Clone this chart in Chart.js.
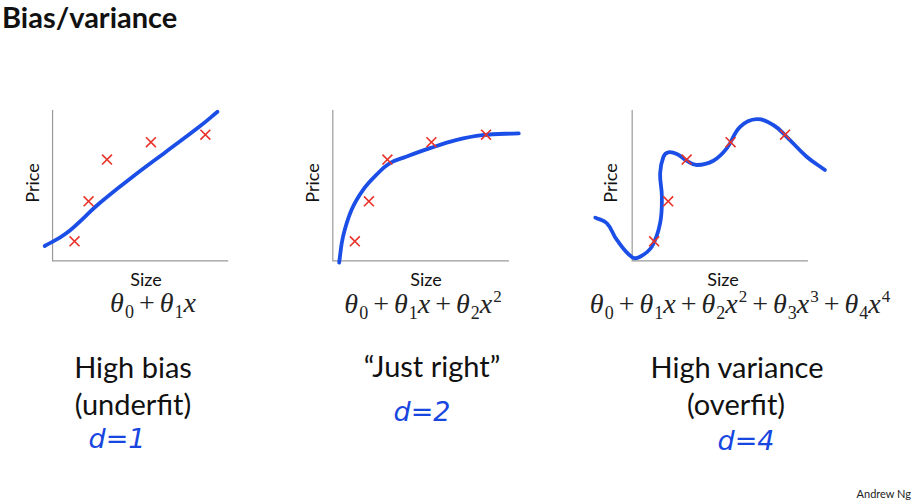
<!DOCTYPE html>
<html>
<head>
<meta charset="utf-8">
<title>Bias/variance</title>
<script src="https://cdn.jsdelivr.net/npm/chart.js@4.4.1/dist/chart.umd.min.js"></script>
<style>
  body { margin: 0; background: #fff; font-family: Lato, "Open Sans", sans-serif; }
  #slide { position: relative; width: 917px; height: 504px; overflow: hidden; background: #fff; }
  #slide canvas { position: absolute; }
  .t { position: absolute; transform: translate(-50%, -50%); white-space: nowrap; color: #111; }
  .title { position: absolute; left: 2px; top: -1px; font-weight: bold; font-size: 29px; color: #111; }
  .ax { font-size: 18px; }
  .rot { transform: translate(-50%, -50%) rotate(-90deg); }
  .eq { font-family: "Liberation Serif", "DejaVu Serif", serif; font-size: 28px; color: #222; }
  .eq i { font-style: italic; }
  .eq sub { font-size: 18px; vertical-align: -6px; margin-left: 1px; }
  .eq sup { font-size: 17px; vertical-align: 11px; margin-left: 1px; }
  .eq b { font-weight: normal; margin: 0 5px; }
  .big { font-size: 29px; }
  .hand { font-family: "DejaVu Sans", sans-serif; font-size: 27px; color: #1846e0; font-style: italic; }
  .credit { position: absolute; right: 6px; top: 487px; font-size: 11px; color: #222; }
</style>
</head>
<body>
<div id="slide">
  <div class="title">Bias/variance</div>

  <div class="t ax rot" style="left:32px; top:183px;">Price</div>
  <div class="t ax rot" style="left:312px; top:183px;">Price</div>
  <div class="t ax rot" style="left:610px; top:183px;">Price</div>

  <div class="t ax" style="left:146px; top:279px;">Size</div>
  <div class="t ax" style="left:426px; top:279px;">Size</div>
  <div class="t ax" style="left:723px; top:279px;">Size</div>

  <div class="t eq" style="left:153px; top:305px;"><i>θ</i><sub>0</sub><b>+</b><i>θ</i><sub>1</sub><i>x</i></div>
  <div class="t eq" style="left:423px; top:305px;"><i>θ</i><sub>0</sub><b>+</b><i>θ</i><sub>1</sub><i>x</i><b>+</b><i>θ</i><sub>2</sub><i>x</i><sup>2</sup></div>
  <div class="t eq" style="left:740px; top:305px;"><i>θ</i><sub>0</sub><b>+</b><i>θ</i><sub>1</sub><i>x</i><b>+</b><i>θ</i><sub>2</sub><i>x</i><sup>2</sup><b>+</b><i>θ</i><sub>3</sub><i>x</i><sup>3</sup><b>+</b><i>θ</i><sub>4</sub><i>x</i><sup>4</sup></div>

  <div class="t big" style="left:133px; top:366px;">High bias</div>
  <div class="t big" style="left:133px; top:403px;">(underfit)</div>
  <div class="t big" style="left:432px; top:365px;">“Just right”</div>
  <div class="t big" style="left:737px; top:366px;">High variance</div>
  <div class="t big" style="left:736px; top:403px;">(overfit)</div>

  <div class="t hand" style="left:117px; top:438px;">d=1</div>
  <div class="t hand" style="left:422px; top:411px;">d=2</div>
  <div class="t hand" style="left:746px; top:440px;">d=4</div>

  <div class="credit">Andrew Ng</div>
</div>

<script>
'use strict';

//****************************************
//            DATA
//****************************************

// training examples (same five houses in every plot)
const sizeX = [12.5, 20.5, 31, 56, 87];
const priceY = [13, 39.5, 67.2, 78.7, 83.7];

// d = 1 : straight-ish line
const fit1X = [-4.5, 7.8, 26.7, 45.6, 64.6, 83.5, 93.9];
const fit1Y = [9.9, 18.3, 38.2, 55.8, 72.4, 88.9, 98.9];

// d = 2 : curve that flattens out
const fit2X = [3.6, 5.8, 10.6, 17.1, 24.7, 32.2, 41.6, 54.8, 69.9, 84.9, 105.6];
const fit2Y = [-1.1, 16.1, 33.8, 47, 57, 64.7, 69.1, 74.6, 80.1, 83.4, 84.6];

// d = 4 : wiggly overfit curve
const fit4X = [-21, -14.4, -8.7, 0, 4.5, 11.2, 15.9, 16.9, 15.9, 17.8, 20.6, 25.4, 31.1,
  36.8, 46.2, 53.8, 61.4, 70.9, 80.3, 87.9, 99.3, 109.7];
const fit4Y = [28.7, 25, 13.9, 2.4, 2.8, 9.5, 25, 42.6, 58.1, 69.1, 72, 70.9, 66.4,
  63.6, 66.4, 74.6, 88.9, 94, 90.1, 82.3, 69.1, 60.3];

// axes run from 0 to this value
const axisMax = 100;

//****************************************
//            LAYOUT
//****************************************

const originY = 261;  // pixel row of the x axis
const unitX = 1.76;   // pixels per data unit
const unitY = 1.51;
const yMin = -6;
const yMax = 108;

const BLUE = '#1a4ee6';
const RED = '#e8332a';

//****************************************
//            HELPER FUNCTIONS
//****************************************

function zip(xs, ys) {
  return xs.map((x, i) => ({ x: x, y: ys[i] }));
}

// draws the two grey axis lines from the origin
const axesPlugin = {
  id: 'axesLines',
  beforeDatasetsDraw(chart) {
    const ctx = chart.ctx;
    const xs = chart.scales.x;
    const ys = chart.scales.y;
    const x0 = xs.getPixelForValue(0);
    const y0 = ys.getPixelForValue(0);
    ctx.save();
    ctx.strokeStyle = '#9a9a9a';
    ctx.lineWidth = 1.2;
    ctx.beginPath();
    ctx.moveTo(x0, ys.getPixelForValue(axisMax));
    ctx.lineTo(x0, y0);
    ctx.lineTo(xs.getPixelForValue(axisMax), y0);
    ctx.stroke();
    ctx.restore();
  }
};

function makePlot(originX, xMin, xMax, fitX, fitY) {
  const canvas = document.createElement('canvas');
  canvas.width = Math.round((xMax - xMin) * unitX);
  canvas.height = Math.round((yMax - yMin) * unitY);
  canvas.style.left = (originX + xMin * unitX) + 'px';
  canvas.style.top = (originY - yMax * unitY) + 'px';
  document.getElementById('slide').appendChild(canvas);

  new Chart(canvas, {
    type: 'scatter',
    data: {
      datasets: [{
        data: zip(sizeX, priceY),
        pointStyle: 'crossRot',
        pointRadius: 7,
        pointBorderWidth: 1.6,
        borderColor: RED,
        showLine: false
      }, {
        data: zip(fitX, fitY),
        showLine: true,
        borderColor: BLUE,
        borderWidth: 3.8,
        pointRadius: 0,
        tension: 0.4,
        borderCapStyle: 'round',
        borderJoinStyle: 'round'
      }]
    },
    options: {
      responsive: false,
      animation: false,
      events: [],
      layout: { padding: 0, autoPadding: false },
      plugins: { legend: { display: false }, tooltip: { enabled: false } },
      scales: {
        x: { type: 'linear', min: xMin, max: xMax, display: false },
        y: { type: 'linear', min: yMin, max: yMax, display: false }
      }
    },
    plugins: [axesPlugin]
  });
}

//****************************************
//            RENDER
//****************************************

makePlot(53, -10, 105, fit1X, fit1Y);
makePlot(333, -5, 108, fit2X, fit2Y);
makePlot(632, -24, 112, fit4X, fit4Y);
</script>
</body>
</html>
